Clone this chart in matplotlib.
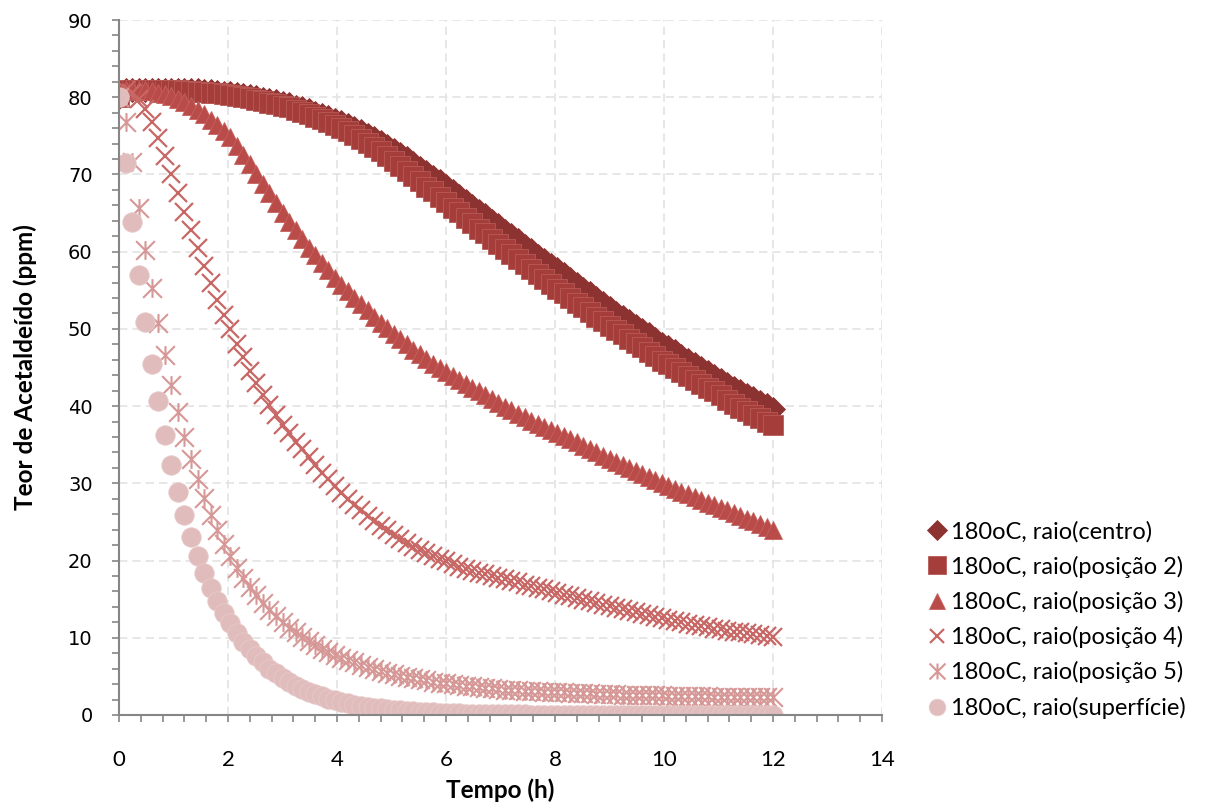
import numpy as np
import matplotlib
matplotlib.use('Agg')
import matplotlib.pyplot as plt
from matplotlib.path import Path
from matplotlib.ticker import MultipleLocator

# tempo (h), one sample every 0.12 h
tempo = [0.00, 0.12, 0.24, 0.36, 0.48, 0.60, 0.72, 0.84, 0.96, 1.08,
         1.20, 1.32, 1.44, 1.56, 1.68, 1.80, 1.92, 2.04, 2.16, 2.28,
         2.40, 2.52, 2.64, 2.76, 2.88, 3.00, 3.12, 3.24, 3.36, 3.48,
         3.60, 3.72, 3.84, 3.96, 4.08, 4.20, 4.32, 4.44, 4.56, 4.68,
         4.80, 4.92, 5.04, 5.16, 5.28, 5.40, 5.52, 5.64, 5.76, 5.88,
         6.00, 6.12, 6.24, 6.36, 6.48, 6.60, 6.72, 6.84, 6.96, 7.08,
         7.20, 7.32, 7.44, 7.56, 7.68, 7.80, 7.92, 8.04, 8.16, 8.28,
         8.40, 8.52, 8.64, 8.76, 8.88, 9.00, 9.12, 9.24, 9.36, 9.48,
         9.60, 9.72, 9.84, 9.96, 10.08, 10.20, 10.32, 10.44, 10.56, 10.68,
         10.80, 10.92, 11.04, 11.16, 11.28, 11.40, 11.52, 11.64, 11.76, 11.88,
         12.00]

centro = [80.0, 81.0, 81.0, 81.0, 81.0, 81.0, 81.0, 81.0, 81.0, 80.9,
          80.9, 80.9, 80.9, 80.8, 80.8, 80.7, 80.6, 80.5, 80.4, 80.3,
          80.2, 80.0, 79.8, 79.7, 79.5, 79.3, 79.1, 78.8, 78.6, 78.3,
          78.0, 77.7, 77.4, 77.1, 76.8, 76.4, 76.0, 75.6, 75.1, 74.7,
          74.2, 73.7, 73.2, 72.6, 72.1, 71.5, 70.9, 70.3, 69.7, 69.1,
          68.5, 67.9, 67.2, 66.6, 65.9, 65.3, 64.7, 64.0, 63.4, 62.7,
          62.1, 61.5, 60.8, 60.2, 59.5, 58.9, 58.3, 57.7, 57.1, 56.4,
          55.8, 55.2, 54.6, 54.0, 53.4, 52.7, 52.1, 51.6, 51.0, 50.4,
          49.8, 49.3, 48.7, 48.1, 47.6, 47.1, 46.5, 46.0, 45.5, 45.0,
          44.4, 43.9, 43.4, 42.9, 42.4, 42.0, 41.5, 41.0, 40.5, 40.1,
          39.6]

posicao2 = [80.0, 81.0, 81.0, 81.0, 81.0, 81.0, 81.0, 80.9, 80.9, 80.9,
            80.8, 80.8, 80.7, 80.7, 80.6, 80.5, 80.4, 80.3, 80.2, 80.0,
            79.9, 79.7, 79.5, 79.3, 79.1, 78.9, 78.7, 78.4, 78.1, 77.8,
            77.5, 77.2, 76.8, 76.4, 76.0, 75.6, 75.1, 74.6, 74.1, 73.6,
            73.0, 72.4, 71.8, 71.1, 70.4, 69.8, 69.1, 68.4, 67.8, 67.1,
            66.4, 65.7, 65.1, 64.4, 63.7, 63.0, 62.4, 61.7, 61.0, 60.4,
            59.7, 59.1, 58.4, 57.8, 57.1, 56.5, 55.8, 55.2, 54.6, 54.0,
            53.4, 52.8, 52.2, 51.6, 51.0, 50.4, 49.8, 49.3, 48.7, 48.2,
            47.6, 47.0, 46.5, 45.9, 45.4, 44.9, 44.4, 43.9, 43.4, 42.9,
            42.4, 41.9, 41.4, 40.8, 40.3, 39.8, 39.4, 38.9, 38.5, 38.0,
            37.5]

posicao3 = [80.0, 81.0, 81.0, 81.0, 80.9, 80.8, 80.6, 80.4, 80.1, 79.8,
            79.4, 78.9, 78.4, 77.8, 77.1, 76.4, 75.6, 74.8, 73.7, 72.5,
            71.3, 70.0, 68.8, 67.6, 66.3, 65.0, 63.9, 62.8, 61.6, 60.5,
            59.6, 58.6, 57.6, 56.6, 55.7, 54.9, 54.0, 53.2, 52.4, 51.6,
            50.8, 50.1, 49.4, 48.7, 48.0, 47.3, 46.7, 46.1, 45.5, 44.9,
            44.4, 43.9, 43.4, 42.9, 42.4, 41.9, 41.4, 40.9, 40.4, 39.9,
            39.5, 39.0, 38.6, 38.1, 37.7, 37.3, 36.9, 36.5, 36.1, 35.7,
            35.3, 34.9, 34.5, 34.1, 33.6, 33.2, 32.8, 32.4, 32.0, 31.6,
            31.2, 30.8, 30.4, 30.0, 29.6, 29.3, 28.9, 28.6, 28.2, 27.9,
            27.5, 27.2, 26.8, 26.5, 26.1, 25.8, 25.4, 25.1, 24.7, 24.4,
            24.0]

posicao4 = [80.0, 81.0, 80.6, 79.8, 78.5, 76.8, 74.7, 72.4, 70.0, 67.6,
            65.2, 62.8, 60.5, 58.2, 55.9, 53.7, 51.8, 50.0, 48.1, 46.3,
            44.6, 43.0, 41.5, 40.1, 38.8, 37.6, 36.5, 35.4, 34.4, 33.4,
            32.4, 31.4, 30.5, 29.6, 28.8, 28.0, 27.2, 26.5, 25.8, 25.1,
            24.5, 23.9, 23.3, 22.8, 22.3, 21.8, 21.4, 21.0, 20.6, 20.2,
            19.9, 19.5, 19.2, 18.9, 18.7, 18.4, 18.2, 18.0, 17.8, 17.6,
            17.4, 17.2, 16.9, 16.7, 16.5, 16.3, 16.0, 15.8, 15.6, 15.4,
            15.1, 14.9, 14.7, 14.5, 14.3, 14.1, 13.9, 13.7, 13.5, 13.3,
            13.1, 12.9, 12.7, 12.5, 12.3, 12.2, 12.0, 11.8, 11.7, 11.5,
            11.4, 11.2, 11.1, 10.9, 10.8, 10.7, 10.6, 10.5, 10.3, 10.2,
            10.1]

posicao5 = [80.0, 76.8, 71.6, 65.7, 60.2, 55.3, 50.8, 46.6, 42.7, 39.2,
            36.0, 33.1, 30.5, 28.1, 25.9, 24.0, 22.2, 20.6, 19.1, 17.8,
            16.6, 15.5, 14.5, 13.6, 12.8, 12.0, 11.3, 10.7, 10.1, 9.6,
            9.1, 8.6, 8.2, 7.8, 7.4, 7.1, 6.8, 6.5, 6.2, 6.0,
            5.7, 5.5, 5.3, 5.1, 4.9, 4.8, 4.6, 4.5, 4.3, 4.2,
            4.1, 4.0, 3.9, 3.8, 3.7, 3.6, 3.5, 3.45, 3.4, 3.3,
            3.25, 3.2, 3.15, 3.1, 3.05, 3.0, 2.98, 2.95, 2.92, 2.89,
            2.86, 2.83, 2.8, 2.77, 2.74, 2.71, 2.68, 2.65, 2.63, 2.61,
            2.59, 2.57, 2.55, 2.53, 2.51, 2.49, 2.47, 2.45, 2.43, 2.41,
            2.4, 2.39, 2.38, 2.37, 2.36, 2.35, 2.34, 2.33, 2.32, 2.31,
            2.3]

superficie = [80.0, 71.5, 63.8, 57.0, 50.9, 45.5, 40.6, 36.3, 32.4, 28.9,
              25.9, 23.1, 20.6, 18.4, 16.5, 14.8, 13.2, 11.9, 10.6, 9.5,
              8.5, 7.6, 6.8, 6.0, 5.4, 4.8, 4.3, 3.8, 3.4, 3.0,
              2.7, 2.4, 2.1, 1.9, 1.7, 1.5, 1.3, 1.2, 1.05, 0.95,
              0.85, 0.75, 0.67, 0.6, 0.53, 0.47, 0.42, 0.38, 0.34, 0.3,
              0.27, 0.24, 0.21, 0.19, 0.17, 0.15, 0.14, 0.12, 0.11, 0.1,
              0.09, 0.08, 0.07, 0.06, 0.06, 0.05, 0.05, 0.04, 0.04, 0.04,
              0.03, 0.03, 0.03, 0.03, 0.03, 0.03, 0.03, 0.03, 0.03, 0.03,
              0.03, 0.02, 0.02, 0.02, 0.02, 0.02, 0.02, 0.02, 0.02, 0.02,
              0.02, 0.01, 0.01, 0.01, 0.01, 0.01, 0.01, 0.01, 0.01, 0.01,
              0.01]

rotulos = ['180oC, raio(centro)', '180oC, raio(posição 2)', '180oC, raio(posição 3)',
           '180oC, raio(posição 4)', '180oC, raio(posição 5)', '180oC, raio(superfície)']

# excel-like star: vertical bar + x
star = Path([(0, -1), (0, 1), (-1, -1), (1, 1), (-1, 1), (1, -1)],
            [Path.MOVETO, Path.LINETO, Path.MOVETO, Path.LINETO, Path.MOVETO, Path.LINETO])

estilos = [
    dict(marker='D', ms=12, color='#8c3331', mec='#8c3331', mew=0.6),
    dict(marker='s', ms=14.5, color='#a53e3b', mec='#b75a57', mew=0.6),
    dict(marker='^', ms=13.5, color='#b94b48', mec='#c6625f', mew=0.6),
    dict(marker='x', ms=12.5, color='#c86866', mec='#c86866', mew=1.6),
    dict(marker=star, ms=13.5, color='#d69896', mec='#d69896', mew=1.5),
    dict(marker='o', ms=14, color='#e0bdbc', mec='#e6c9c8', mew=0.6),
]
series = [centro, posicao2, posicao3, posicao4, posicao5, superficie]

fig = plt.figure(figsize=(12.05, 8.08), dpi=100)
ax = fig.add_axes([0.0988, 0.1151, 0.6332, 0.8601])

handles = []
for ys, st, lab in zip(series, estilos, rotulos):
    h, = ax.plot(tempo, ys, linestyle='none', label=lab, **st)
    handles.append(h)

ax.set_xlim(0, 14)
ax.set_ylim(0, 90)
ax.xaxis.set_major_locator(MultipleLocator(2))
ax.xaxis.set_minor_locator(MultipleLocator(0.4))
ax.yaxis.set_major_locator(MultipleLocator(10))
ax.yaxis.set_minor_locator(MultipleLocator(2))

ax.grid(True, which='major', color='#e3e3e3', linestyle=(0, (5, 3)), linewidth=1.2)
ax.set_axisbelow(True)
for s in ['top', 'right']:
    ax.spines[s].set_visible(False)
for s in ['left', 'bottom']:
    ax.spines[s].set_color('#868686')
    ax.spines[s].set_linewidth(1.5)

ax.tick_params(which='both', direction='out', color='#868686', width=1.2, length=5)
ax.tick_params(axis='y', which='major', pad=14, labelsize=14)
ax.tick_params(axis='x', which='major', pad=20, labelsize=16)
for lb in ax.get_xticklabels():
    lb.set_family('Lato')
for lb in ax.get_yticklabels():
    lb.set_family('DejaVu Sans')

ax.set_xlabel('Tempo (h)', fontsize=17.5, fontweight='bold', family='Lato', labelpad=6)
ax.set_ylabel('Teor de Acetaldeído (ppm)', fontsize=17.5, fontweight='bold',
              family='Lato', labelpad=22)

leg = fig.legend(handles=handles, labels=rotulos, loc='center left',
                 bbox_to_anchor=(0.752, 0.233), frameon=False,
                 prop={'family': 'Lato', 'size': 17}, handlelength=0.8,
                 handletextpad=0.2, labelspacing=0.56, markerscale=0.85)

plt.savefig('out.png', dpi=100)
